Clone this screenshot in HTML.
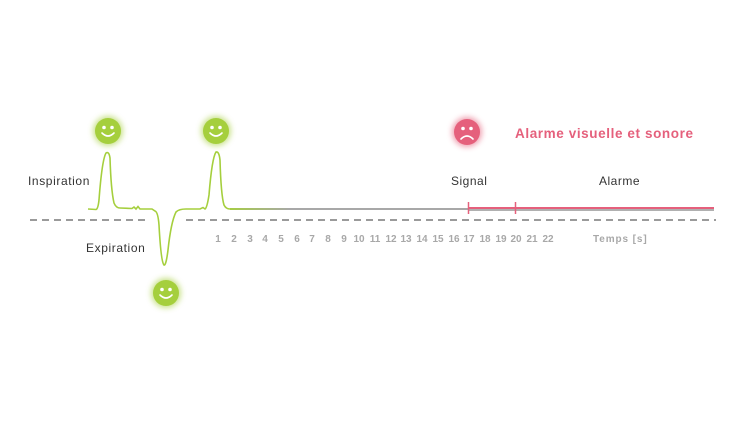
<!DOCTYPE html>
<html><head><meta charset="utf-8"><style>
html,body{margin:0;padding:0;background:#fff;}
svg{display:block;}
text{font-family:"Liberation Sans",sans-serif;}
</style></head><body>
<svg width="750" height="421" viewBox="0 0 750 421" xmlns="http://www.w3.org/2000/svg">
<defs>
<filter id="gg" x="-1" y="-1" width="3" height="3"><feGaussianBlur stdDeviation="3"/></filter>
<linearGradient id="fade" x1="225" y1="0" x2="290" y2="0" gradientUnits="userSpaceOnUse">
<stop offset="0" stop-color="#a5cf3d"/><stop offset="1" stop-color="#a8a8a8"/></linearGradient>
</defs>
<line x1="30" y1="220" x2="150" y2="220" stroke="#9a9a9a" stroke-width="2" stroke-dasharray="7,5"/>
<line x1="186" y1="220" x2="716" y2="220" stroke="#9a9a9a" stroke-width="2" stroke-dasharray="7,5"/>
<path d="M88 209 L96 209.5 Q98 209 99 200 Q102 160 106 153 Q109 151 110 158 Q111 190 114 203 Q116 208 120 208 L132 208.5 L134 207 L136 209 L138 206.5 L140 209 L152 209 L155 211 Q158 212 159 225 Q161 262 164 265 Q166 266 168 250 Q171 222 176 212 Q179 209 186 209 L200 209 L203 207.5 L205 209 Q207 208 209 195 Q212 158 216 152 Q219 151 220 160 Q221 195 224 205 Q226 209 230 209" fill="none" stroke="#a5cf3d" stroke-width="1.6"/>
<line x1="230" y1="209" x2="468" y2="209" stroke="url(#fade)" stroke-width="2"/>
<line x1="468" y1="210" x2="714" y2="210" stroke="#b0b0b0" stroke-width="2"/>
<line x1="468" y1="208" x2="714" y2="208" stroke="#e5607c" stroke-width="2"/>
<line x1="468.5" y1="202" x2="468.5" y2="214" stroke="#e5607c" stroke-width="1.5"/>
<line x1="515.5" y1="202" x2="515.5" y2="214" stroke="#e5607c" stroke-width="1.5"/>
<g id="s1">
<circle cx="108" cy="131" r="15" fill="#a5cf3d" opacity="0.6" filter="url(#gg)"/>
<circle cx="108" cy="131" r="13" fill="#a5cf3d"/>
<circle cx="104" cy="127.5" r="1.8" fill="#fff"/><circle cx="112" cy="127.5" r="1.8" fill="#fff"/>
<path d="M102 133 Q108 139 114 133" fill="none" stroke="#fff" stroke-width="1.6" stroke-linecap="round"/>
</g>
<use href="#s1" x="108" y="0"/>
<use href="#s1" x="58" y="162"/>
<circle cx="467" cy="132" r="15" fill="#e5607c" opacity="0.6" filter="url(#gg)"/>
<circle cx="467" cy="132" r="13" fill="#e5607c"/>
<circle cx="463" cy="128.5" r="1.8" fill="#fff"/><circle cx="471" cy="128.5" r="1.8" fill="#fff"/>
<path d="M461 139 Q467 133 473 139" fill="none" stroke="#fff" stroke-width="1.6" stroke-linecap="round"/>
<text x="28" y="185" font-size="12" fill="#333" letter-spacing="0.6">Inspiration</text>
<text x="86" y="252" font-size="12" fill="#333" letter-spacing="0.6">Expiration</text>
<text x="451" y="185" font-size="12" fill="#333" letter-spacing="0.5">Signal</text>
<text x="599" y="185" font-size="12" fill="#333" letter-spacing="0.5">Alarme</text>
<text x="515" y="138" font-size="13.5" font-weight="bold" fill="#e5607c" letter-spacing="0.6">Alarme visuelle et sonore</text>
<text x="593" y="242" font-size="10" font-weight="bold" fill="#a8a8a8" letter-spacing="0.9">Temps [s]</text>
<g font-size="10" font-weight="bold" fill="#a8a8a8" text-anchor="middle">
<text x="218" y="242">1</text><text x="234" y="242">2</text><text x="250" y="242">3</text><text x="265" y="242">4</text><text x="281" y="242">5</text><text x="297" y="242">6</text><text x="312" y="242">7</text><text x="328" y="242">8</text><text x="344" y="242">9</text><text x="359" y="242">10</text><text x="375" y="242">11</text><text x="391" y="242">12</text><text x="406" y="242">13</text><text x="422" y="242">14</text><text x="438" y="242">15</text><text x="454" y="242">16</text><text x="469" y="242">17</text><text x="485" y="242">18</text><text x="501" y="242">19</text><text x="516" y="242">20</text><text x="532" y="242">21</text><text x="548" y="242">22</text>
</g>
</svg>
</body></html>
